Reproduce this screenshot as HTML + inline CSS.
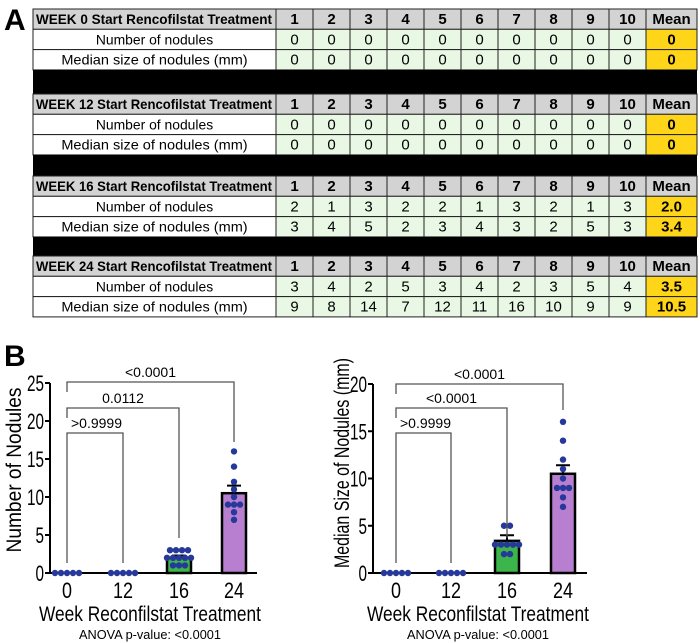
<!DOCTYPE html>
<html><head><meta charset="utf-8">
<style>
html,body{margin:0;padding:0;background:#fff;}
svg{display:block;font-family:"Liberation Sans",sans-serif;}
</style></head>
<body>
<svg id="fig" width="700" height="643" viewBox="0 0 700 643" xmlns="http://www.w3.org/2000/svg">
<text x="4" y="30" font-size="30" font-weight="bold">A</text>
<text x="4" y="366" font-size="30" font-weight="bold">B</text>
<g id="table"></g>
<g id="chart1"></g>
<g id="chart2"></g>
</svg>
<script>
// ---------- table data ----------
const weeks = [0, 12, 16, 24];
const nodCounts = [[0,0,0,0,0,0,0,0,0,0],[0,0,0,0,0,0,0,0,0,0],[2,1,3,2,2,1,3,2,1,3],[3,4,2,5,3,4,2,3,5,4]];
const nodSizes = [[0,0,0,0,0,0,0,0,0,0],[0,0,0,0,0,0,0,0,0,0],[3,4,5,2,3,4,3,2,5,3],[9,8,14,7,12,11,16,10,9,9]];
const countMeans = ["0","0","2.0","3.5"];
const sizeMeans = ["0","0","3.4","10.5"];
// ---------- chart data ----------
const categories = ["0","12","16","24"];
const countBars = [0, 0, 2.0, 10.5];
const countErr = [0, 0, 0.3, 1.0];
const countDots = [[0,0,0,0,0],[0,0,0,0,0],[3,3,3,3,2,2,2,2,2,1,1,1],[16,14,12,11,10,9,9,9,8,7]];
const countTicks = [0,5,10,15,20,25];
const countP = [">0.9999","0.0112","<0.0001"];
const sizeBars = [0, 0, 3.4, 10.5];
const sizeErr = [0, 0, 0.6, 0.9];
const sizeDots = [[0,0,0,0,0],[0,0,0,0,0],[5,5,3,3,3,3,3,2,2],[16,14,12,11,10,9,9,9,8,7]];
const sizeTicks = [0,5,10,15,20];
const sizeP = [">0.9999","<0.0001","<0.0001"];

const NS="http://www.w3.org/2000/svg";
function mk(parent,tag,attrs,text){const e=document.createElementNS(NS,tag);for(const k in attrs)e.setAttribute(k,attrs[k]);if(text!==undefined)e.textContent=text;parent.appendChild(e);return e;}

// ---------- table ----------
const tbl=document.getElementById('table');
const blockTops=[9,94,176,256];
const colX0=276, colW=37, meanX0=646, meanX1=697, labX0=33;
blockTops.forEach((top,b)=>{
  const rows=[
    {label:"WEEK "+weeks[b]+" Start Rencofilstat Treatment", vals:[1,2,3,4,5,6,7,8,9,10], mean:"Mean", hdr:true},
    {label:"Number of nodules", vals:nodCounts[b], mean:countMeans[b]},
    {label:"Median size of nodules (mm)", vals:nodSizes[b], mean:sizeMeans[b]}];
  rows.forEach((r,i)=>{
    const y=top+i*20.3, h=20.3;
    let e=mk(tbl,'rect',{x:labX0,y:y,width:colX0-labX0,height:h,fill:r.hdr?'#d3d3d3':'#fff',stroke:'#222','stroke-width':1});
    
    e=mk(tbl,'text',{x:r.hdr?36:(labX0+colX0)/2,y:y+15,'font-size':14,'font-weight':r.hdr?'bold':'normal','text-anchor':r.hdr?'start':'middle','lengthAdjust':'spacingAndGlyphs'},r.label);
    if(r.hdr) e.setAttribute('textLength', 236);
    else e.setAttribute('textLength', r.label.length*6.9);
    
    r.vals.forEach((v,j)=>{
      const x=colX0+j*colW;
      let c=mk(tbl,'rect',{x:x,y:y,width:colW,height:h,fill:r.hdr?'#d3d3d3':'#e8f8e4',stroke:'#222','stroke-width':1});
      
      c=mk(tbl,'text',{x:x+colW/2,y:y+15,'font-size':15,'font-weight':r.hdr?'bold':'normal','text-anchor':'middle'},v);
      
    });
    let m=mk(tbl,'rect',{x:meanX0,y:y,width:meanX1-meanX0,height:h,fill:r.hdr?'#d3d3d3':'#ffd51a',stroke:'#222','stroke-width':1});
    
    m=mk(tbl,'text',{x:(meanX0+meanX1)/2,y:y+15,'font-size':15,'font-weight':'bold','text-anchor':'middle'},r.mean);
    
  });
  if(b<3){
    const bb=mk(tbl,'rect',{x:labX0,y:top+61,width:meanX1-labX0,height:blockTops[b+1]-top-61,fill:'#000'});
    
  }
});

// ---------- charts ----------
function chart(g,cfg){
  const yS=v=>cfg.y0-(v/cfg.ymax)*(cfg.y0-cfg.yTop);
  const xS=i=>cfg.xs[i];
  let e=mk(g,'line',{x1:cfg.ax,y1:cfg.yTop,x2:cfg.ax,y2:cfg.y0,stroke:'#000','stroke-width':2});
  
  e=mk(g,'line',{x1:cfg.ax,y1:cfg.y0,x2:cfg.axEnd,y2:cfg.y0,stroke:'#000','stroke-width':2});
  
  cfg.ticks.forEach(t=>{
    let l=mk(g,'line',{x1:cfg.ax-5,y1:yS(t),x2:cfg.ax,y2:yS(t),stroke:'#000','stroke-width':2});
    
    l=mk(g,'text',{x:cfg.ax-6,y:yS(t)+8,'font-size':22,'text-anchor':'end',textLength:String(t).length*8.5,lengthAdjust:'spacingAndGlyphs'},t);
    
  });
  categories.forEach((c,i)=>{
    let t=mk(g,'text',{x:xS(i),y:cfg.y0+25,'font-size':22,'text-anchor':'middle',textLength:c.length*10,lengthAdjust:'spacingAndGlyphs'},c);
    
  });
  let t=mk(g,'text',{x:cfg.xTitleX,y:cfg.y0+48,'font-size':21,'text-anchor':'middle',textLength:222,lengthAdjust:'spacingAndGlyphs'},'Week Reconfilstat Treatment');
  
  t=mk(g,'text',{x:cfg.xTitleX,y:cfg.y0+66,'font-size':13,'text-anchor':'middle',textLength:142,lengthAdjust:'spacingAndGlyphs'},'ANOVA p-value: <0.0001');
  
  t=mk(g,'text',{x:0,y:0,'font-size':21,'text-anchor':'middle',textLength:cfg.titleLen,lengthAdjust:'spacingAndGlyphs',transform:`translate(${cfg.titleX},${cfg.titleY}) rotate(-90)`},cfg.title);
  
  const fills=['#fff','#fff','#3cb54a','#b87fd0'];
  cfg.bars.forEach((v,i)=>{
    if(v>0){
      let r=mk(g,'rect',{x:xS(i)-12,y:yS(v),width:24,height:cfg.y0-yS(v),fill:fills[i],stroke:'#000','stroke-width':2.5});
      
      const ey=yS(v+cfg.err[i]);
      r=mk(g,'path',{d:`M${xS(i)},${yS(v)}V${ey}M${xS(i)-7},${ey}H${xS(i)+7}`,stroke:'#000','stroke-width':2,fill:'none'});
      
    }
  });
  cfg.dots.forEach((arr,i)=>{
    const counts={};
    arr.forEach(v=>{counts[v]=(counts[v]||0)+1;});
    const seen={};
    arr.forEach(v=>{
      const n=counts[v], k=(seen[v]=(seen[v]||0)+1)-1;
      const dx=(k-(n-1)/2)*6;
      const d=mk(g,'circle',{cx:xS(i)+dx,cy:yS(v),r:3.2,fill:'#26399a'});
      
    });
  });
  const levels=[cfg.br[2],cfg.br[1],cfg.br[0]];
  [3,2,1].forEach((to,k)=>{
    const by=cfg.brY[k];
    const bottomL=k===2?cfg.y0-10:by+10;
    const bottomR=cfg.brEnd[k];
    const p=mk(g,'path',{d:`M${xS(0)},${bottomL}V${by}H${xS(to)}V${bottomR}`,stroke:'#555','stroke-width':1.3,fill:'none'});
    
    const lb=mk(g,'text',{x:k===2?xS(0)+4:(xS(0)+xS(to))/2,y:by-5,'font-size':14,'text-anchor':k===2?'start':'middle'},levels[k]);
    
  });
}
chart(document.getElementById('chart1'),{ax:50,axEnd:257,y0:573,yTop:383,ymax:25,xs:[67,123,179,234],ticks:countTicks,
  bars:countBars,err:countErr,dots:countDots,br:countP,brY:[382,408,433],brEnd:[442,538,563],title:'Number of Nodules',titleX:21,titleY:470,titleLen:165,xTitleX:150});
chart(document.getElementById('chart2'),{ax:373,axEnd:587,y0:573,yTop:384,ymax:20,xs:[396,451,507,563],ticks:sizeTicks,
  bars:sizeBars,err:sizeErr,dots:sizeDots,br:sizeP,brY:[384,408,433],brEnd:[410,538,563],title:'Median Size of Nodules (mm)',titleX:349,titleY:463,titleLen:210,xTitleX:478});
</script>
</body></html>
